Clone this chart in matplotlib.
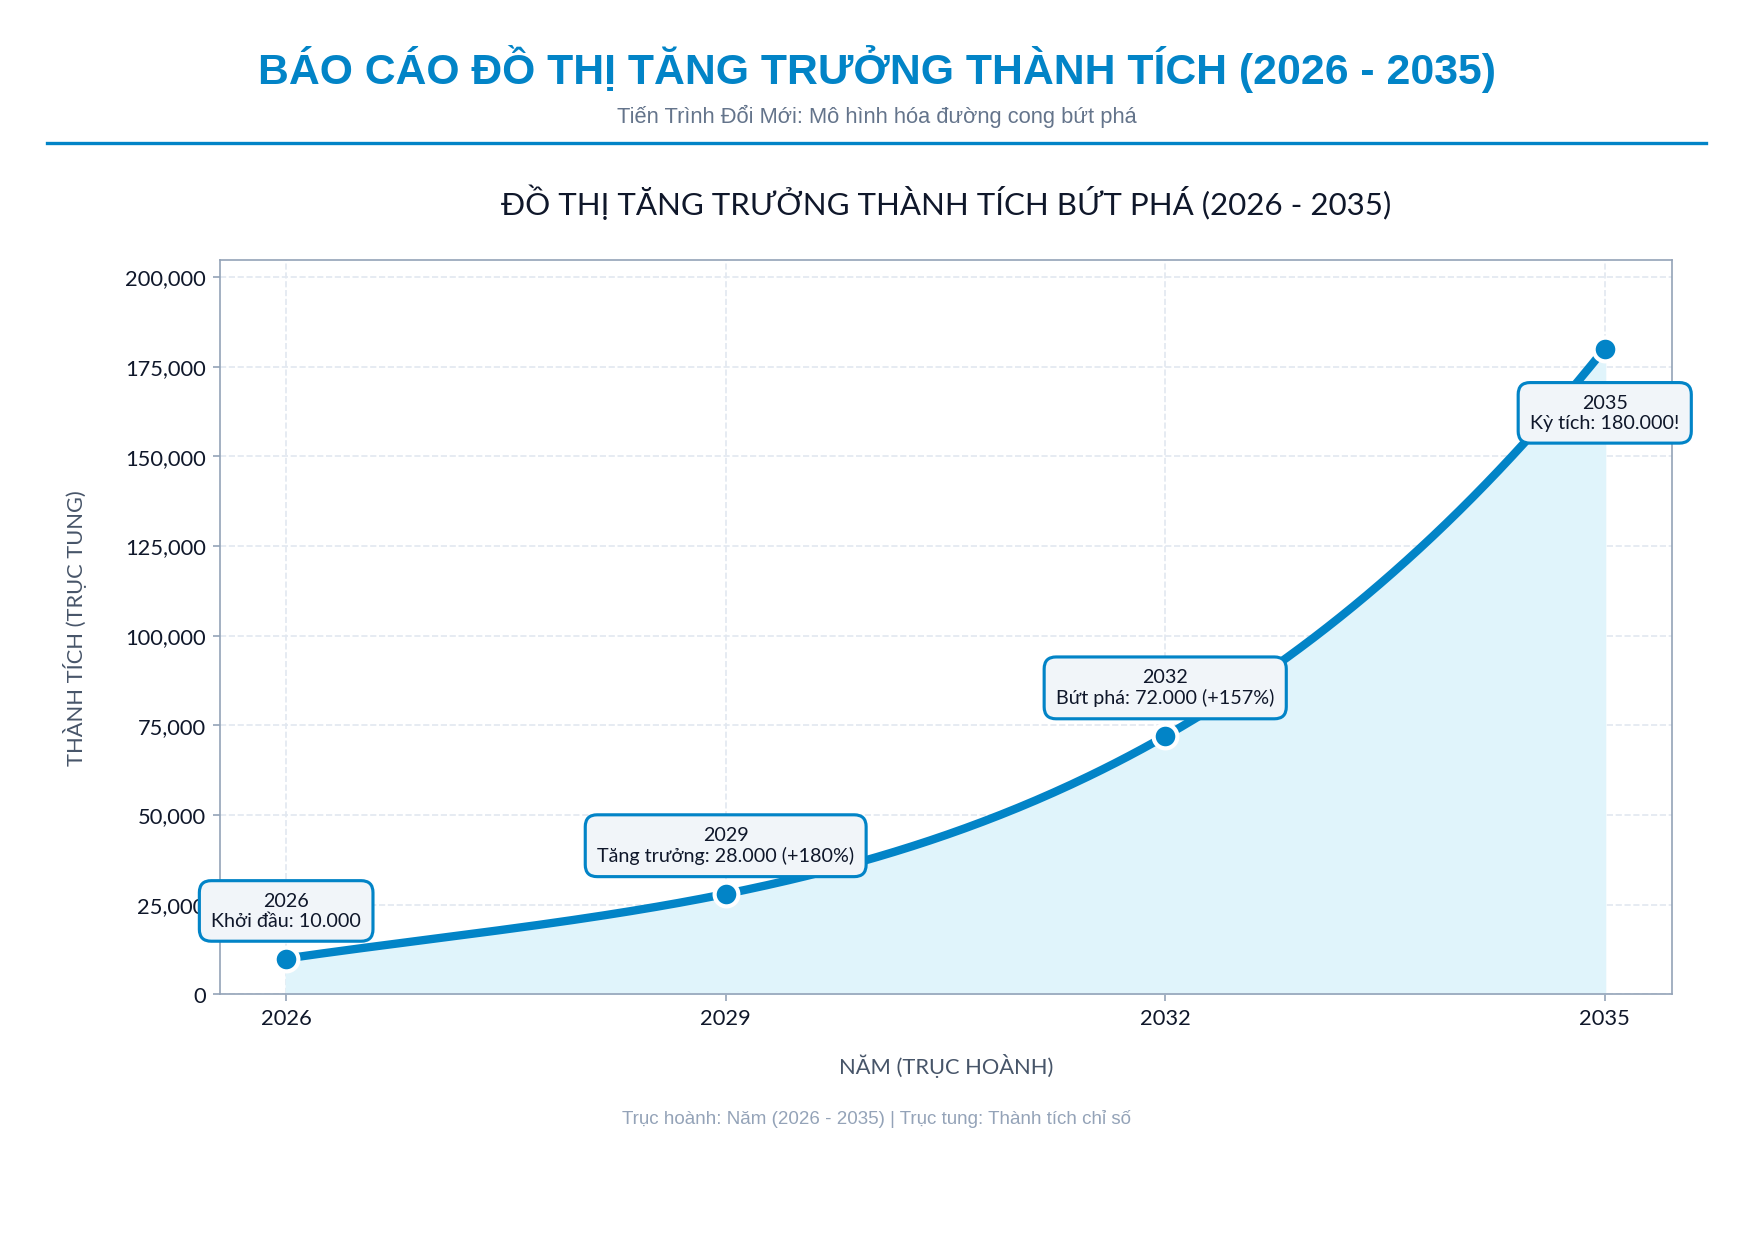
import numpy as np
import matplotlib
matplotlib.use("Agg")
import matplotlib.pyplot as plt
from matplotlib.lines import Line2D

years = [2026, 2029, 2032, 2035]
values = [10000, 28000, 72000, 180000]
labels = ["2026\nKhởi đầu: 10.000", "2029\nTăng trưởng: 28.000 (+180%)",
          "2032\nBứt phá: 72.000 (+157%)", "2035\nKỳ tích: 180.000!"]
yticks = [0, 25000, 50000, 75000, 100000, 125000, 150000, 175000, 200000]

plt.rcParams['font.family'] = ['Lato', 'DejaVu Sans']
blue = '#0284c7'
fig = plt.figure(figsize=(11.69, 8.27), dpi=150)
fig.text(0.5, 0.944, "BÁO CÁO ĐỒ THỊ TĂNG TRƯỞNG THÀNH TÍCH (2026 - 2035)", ha='center', va='center',
         fontsize=20.5, fontweight='bold', color=blue, family='Liberation Sans')
fig.text(0.5, 0.906, "Tiến Trình Đổi Mới: Mô hình hóa đường cong bứt phá", ha='center', va='center',
         fontsize=10.5, color='#64748b', family='Liberation Sans')
fig.add_artist(Line2D([0.027, 0.973], [0.884, 0.884], color=blue, lw=1.6, transform=fig.transFigure))
fig.text(0.5, 0.098, "Trục hoành: Năm (2026 - 2035) | Trục tung: Thành tích chỉ số", ha='center', va='center',
         fontsize=9, color='#94a3b8', family='Liberation Sans')

ax = fig.add_axes([0.1256, 0.198, 0.828, 0.592])
coef = np.polyfit(years, values, 3)
xs = np.linspace(years[0], years[-1], 300)
ys = np.polyval(coef, xs)
ax.fill_between(xs, 0, ys, color='#e0f4fb', zorder=1)
ax.plot(xs, ys, color=blue, lw=4, zorder=3, solid_capstyle='round')
ax.scatter(years, values, s=130, color=blue, edgecolor='white', linewidth=2, zorder=4)
offs = [(0, 14), (0, 14), (0, 14), (0, -22)]
for x, y, t, o in zip(years, values, labels, offs):
    ax.annotate(t, (x, y), xytext=o, textcoords='offset points', ha='center', va='bottom' if o[1] > 0 else 'top',
                fontsize=9.5, color='#0f172a', zorder=5,
                bbox=dict(boxstyle='round,pad=0.6', fc='#f1f5f9', ec=blue, lw=1.5))
ax.set_xlim(2025.55, 2035.46)
ax.set_ylim(0, 204700)
ax.set_xticks(years)
ax.set_yticks(yticks)
ax.set_yticklabels([f"{v:,}" for v in yticks])
ax.tick_params(labelsize=10.5, colors='#0f172a')
ax.tick_params(axis='both', color='#94a3b8')
ax.grid(True, ls='--', color='#e2e8f0', lw=0.8)
ax.set_axisbelow(True)
for s in ax.spines.values():
    s.set_color('#94a3b8')
ax.set_xlabel("NĂM (TRỤC HOÀNH)", fontsize=10.5, color='#475569', labelpad=12)
ax.set_ylabel("THÀNH TÍCH (TRỤC TUNG)", fontsize=10.5, color='#475569', labelpad=18)
ax.set_title("ĐỒ THỊ TĂNG TRƯỞNG THÀNH TÍCH BỨT PHÁ (2026 - 2035)", fontsize=15, color='#0f172a', pad=22)
fig.savefig("out.png", dpi=150, facecolor='white')
